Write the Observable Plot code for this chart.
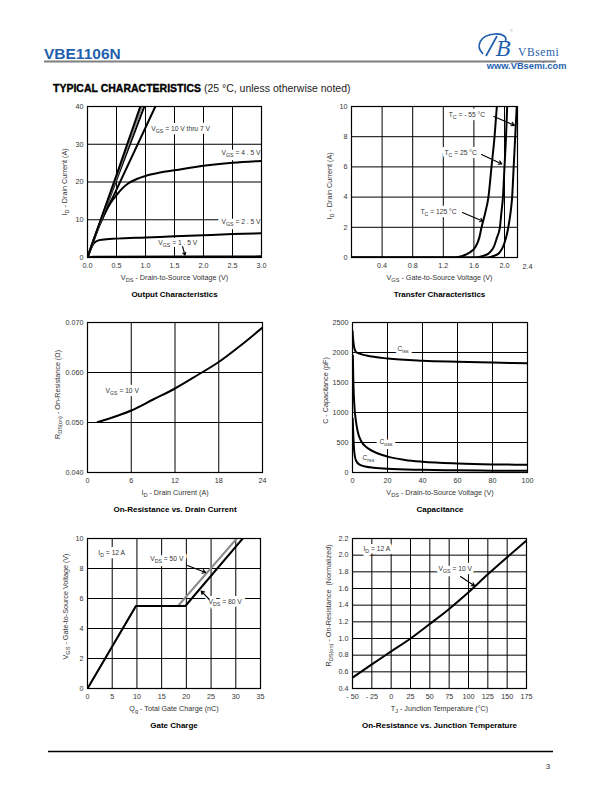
<!DOCTYPE html>
<html><head><meta charset="utf-8">
<script src="https://cdn.jsdelivr.net/npm/d3@7"></script>
<script src="https://cdn.jsdelivr.net/npm/@observablehq/plot@0.6"></script>
<style>
html,body{margin:0;padding:0;background:#fff;}
#page{position:relative;width:612px;height:792px;overflow:hidden;font-family:"Liberation Sans",Arial,sans-serif;}
#page svg{position:absolute;}
</style></head><body>
<div id="page">
<svg id="hdr" width="612" height="100" style="left:0;top:0">
  <text x="44" y="58.5" font-family="Liberation Sans, Arial" font-weight="bold" font-size="15.5" fill="#1f5fae">VBE1106N</text>
  <line x1="44" x2="556" y1="61.5" y2="61.5" stroke="#7f7f7f" stroke-width="2"/>
  <path d="M483,54 C475,46 480,35 495,34 C503,33.6 508,37 505,42" fill="none" stroke="#1f5fae" stroke-width="1.7"/>
  <path d="M486,56 L497,36" stroke="#1f5fae" stroke-width="1.7"/>
  <text x="496" y="55.5" font-family="DejaVu Serif, serif" font-style="italic" font-size="21" fill="#1f5fae">B</text>
  <text x="510" y="32" font-family="Liberation Sans, Arial" font-size="4" fill="#999">®</text>
  <text x="518" y="56" font-family="Liberation Serif, serif" font-size="11.5" letter-spacing="0.6" fill="#1f5fae">VBsemi</text>
  <text x="566.5" y="69" text-anchor="end" font-family="Liberation Sans, Arial" font-weight="bold" font-size="9.3" fill="#1f5fae">www.VBsemi.com</text>
  <text x="53" y="92" font-family="Liberation Sans, Arial" font-size="10.5" fill="#000"><tspan font-weight="900" stroke="#000" stroke-width="0.35">TYPICAL CHARACTERISTICS</tspan><tspan fill="#222"> (25 °C, unless otherwise noted)</tspan></text>
</svg>
<svg id="ftr" width="612" height="52" style="left:0;top:740">
  <line x1="48" x2="553" y1="11.5" y2="11.5" stroke="#000" stroke-width="1.3"/>
  <text x="548" y="28.5" text-anchor="middle" font-family="Liberation Sans, Arial" font-size="8" fill="#333">3</text>
</svg>
</div>
<script>
// ---------- Output Characteristics (VDS V, ID A) ----------
const out_xticks = [0, 0.5, 1.0, 1.5, 2.0, 2.5, 3.0];
const out_yticks = [0, 10, 20, 30, 40];
const out_vgs10 = [[0,0],[0.2,8.8],[0.5,21.8],[0.91,40]];
const out_vgs9  = [[0,0],[0.2,8.6],[0.5,21.3],[0.94,40]];
const out_vgs8  = [[0,0],[0.2,8.4],[0.5,20.6],[0.98,40]];
const out_vgs7  = [[0,0],[0.1,4.5],[0.5,18.0],[1.17,40]];
const out_vgs45 = [[0,0],[0.1,4.4],[0.2,8.5],[0.3,11.8],[0.4,14.5],[0.5,16.5],[0.6,18.3],[0.7,19.6],[0.85,20.8],[1.0,21.6],[1.25,22.5],[1.5,23.1],[2.0,24.3],[2.5,25.1],[3.0,25.6]];
const out_vgs25 = [[0,0],[0.05,2],[0.1,3.6],[0.15,4.3],[0.25,4.7],[0.5,5.0],[1.0,5.3],[1.5,5.6],[2.0,5.9],[2.5,6.2],[3.0,6.4]];
const out_vgs15 = [[0,0],[0.1,0.2],[3.0,0.3]];

// ---------- Transfer Characteristics (VGS V, ID A) ----------
const trans_xticks = [0.4, 0.8, 1.2, 1.6, 2.0];
const trans_xlast = "2.4";
const trans_yticks = [0, 2, 4, 6, 8, 10];
const trans_tc125 = [[0,0],[1.35,0],[1.45,0.1],[1.55,0.35],[1.62,0.7],[1.67,1.3],[1.70,2],[1.75,3],[1.79,4],[1.83,6],[1.87,8],[1.9,10]];
const trans_tc25  = [[0,0],[1.62,0],[1.72,0.1],[1.8,0.3],[1.86,0.7],[1.9,1.3],[1.94,2],[1.96,3],[1.98,4],[2.0,6],[2.02,8],[2.035,10]];
const trans_tcm55 = [[0,0],[1.78,0],[1.86,0.1],[1.93,0.3],[1.98,0.7],[2.02,1.3],[2.05,2],[2.08,3],[2.1,4],[2.12,6],[2.14,8],[2.16,10]];

// ---------- On-Resistance vs Drain Current (ID A, RDS ohm) ----------
const rds_xticks = [0, 6, 12, 18, 24];
const rds_yticks = [0.040, 0.050, 0.060, 0.070];
const rds_vgs10 = [[1.4,0.0501],[3,0.0508],[6,0.0524],[9,0.0546],[12,0.0568],[15,0.0594],[18,0.0621],[21,0.0654],[24,0.0690]];

// ---------- Capacitance (VDS V, C pF) ----------
const cap_xticks = [0, 20, 40, 60, 80, 100];
const cap_yticks = [0, 500, 1000, 1500, 2000, 2500];
const cap_ciss = [[0,2360],[0.5,2180],[1,2080],[2,2010],[4,1980],[8,1950],[20,1900],[40,1862],[60,1845],[80,1832],[100,1820]];
const cap_coss = [[0.2,1950],[0.5,1500],[1,1150],[2,850],[3,680],[5,520],[8,420],[12,350],[20,265],[30,210],[40,180],[60,150],[80,135],[100,130]];
const cap_crss = [[0.1,900],[0.5,600],[1,350],[2,200],[4,130],[8,95],[12,80],[20,62],[40,45],[60,36],[80,30],[100,28]];

// ---------- Gate Charge (Qg nC, VGS V) ----------
const qg_xticks = [0, 5, 10, 15, 20, 25, 30, 35];
const qg_yticks = [0, 2, 4, 6, 8, 10];
const qg_vds50 = [[0,0],[9.8,5.5],[18.3,5.5],[30.2,10]];
const qg_vds80 = [[0,0],[9.8,5.5],[19.8,5.5],[31.4,10]];

// ---------- On-Resistance vs Junction Temperature (TJ °C, normalized) ----------
const tj_xticks = [-50, -25, 0, 25, 50, 75, 100, 125, 150, 175];
const tj_yticks = [0.4, 0.6, 0.8, 1.0, 1.2, 1.4, 1.6, 1.8, 2.0, 2.2];
const tj_rds = [[-50,0.53],[-25,0.69],[0,0.845],[25,1.0],[50,1.175],[75,1.355],[100,1.555],[125,1.77],[150,1.975],[175,2.175]];

const FONT = '"Liberation Sans", Arial, sans-serif';
const page = document.getElementById("page");
const fx = d => d[0], fy = d => d[1];
const inner = a => a.slice(1, -1);

function subscriptify(root) {
  root.querySelectorAll("text").forEach(t => {
    const targets = t.querySelectorAll("tspan").length ? [...t.querySelectorAll("tspan")] : [t];
    targets.forEach(el => {
      const s = el.textContent;
      if (!s.includes("_{")) return;
      el.textContent = "";
      const re = /_\{([^}]*)\}/g;
      let last = 0, m;
      while ((m = re.exec(s))) {
        if (m.index > last) el.appendChild(document.createTextNode(s.slice(last, m.index)));
        const ts = document.createElementNS("http://www.w3.org/2000/svg", "tspan");
        ts.setAttribute("baseline-shift", "-1.6");
        ts.setAttribute("font-size", "78%");
        ts.textContent = m[1];
        el.appendChild(ts);
        last = re.lastIndex;
      }
      if (last < s.length) el.appendChild(document.createTextNode(s.slice(last)));
    });
  });
}

function curve(data, opts = {}) {
  return Plot.line(data, {x: fx, y: fy, stroke: "#000", strokeWidth: 2, curve: "monotone-x", clip: true, ...opts});
}
// annotation: a white backing layer (hides gridlines) then the text itself
function note(items, opts = {}) {
  const base = {x: "x", y: "y", text: "t", textAnchor: "start", fontSize: 6.7, ...opts};
  return [
    Plot.text(items, {...base, fill: "white", stroke: "white", strokeWidth: 6.5, strokeLinejoin: "round"}),
    Plot.text(items, {...base, fill: "#333"})
  ];
}
function pointer(items) {
  return Plot.arrow(items, {x1: "x1", y1: "y1", x2: "x2", y2: "y2", stroke: "#000", strokeWidth: 1.1, headLength: 5});
}

function chart(cfg) {
  const ml = 50, mr = 16, mt = 8, mb = 46;
  const svg = Plot.plot({
    width: ml + cfg.fw + mr, height: mt + cfg.fh + mb,
    marginLeft: ml, marginRight: mr, marginTop: mt, marginBottom: mb,
    style: {fontFamily: FONT, fontSize: "7px", color: "#333", background: "transparent", overflow: "visible"},
    x: {domain: cfg.xdomain, axis: null},
    y: {domain: cfg.ydomain, axis: null},
    marks: [
      Plot.gridX(inner(cfg.xticks), {stroke: "#000", strokeOpacity: 1, strokeWidth: 1}),
      Plot.gridY(inner(cfg.yticks), {stroke: "#000", strokeOpacity: 1, strokeWidth: 1}),
      ...(cfg.notes || []).flat(),
      ...cfg.marks,
      Plot.frame({stroke: "#000", strokeWidth: 1.2}),
      Plot.axisX(cfg.xlabels || cfg.xticks, {tickSize: 0, tickPadding: 5, tickFormat: cfg.xfmt, label: null, fontSize: 7.2}),
      Plot.axisY(cfg.yticks, {tickSize: 0, tickPadding: 4, tickFormat: cfg.yfmt, label: null, fontSize: 7.2}),
      Plot.text([cfg.xlabel], {text: d => d, frameAnchor: "bottom", textAnchor: "middle", lineAnchor: "middle",
        dx: cfg.cdx || 0, dy: 20.5, fontSize: 7.2, fill: "#333"}),
      Plot.text([cfg.ylabel], {text: d => d, frameAnchor: "left", textAnchor: "middle", lineAnchor: "middle",
        rotate: -90, dx: cfg.ydx, dy: cfg.ydy || 0, fontSize: 7.2, fill: "#333"}),
      Plot.text([cfg.title], {text: d => d, frameAnchor: "bottom", textAnchor: "middle", lineAnchor: "middle",
        dx: cfg.cdx || 0, dy: 37, fontSize: 8, fontWeight: "bold", fill: "#000"})
    ]
  });
  svg.style.left = (cfg.left - ml) + "px";
  svg.style.top = (cfg.top - mt) + "px";
  subscriptify(svg);
  page.appendChild(svg);
}

const f1 = d3.format(".1f"), f3 = d3.format(".3f");

// 1. Output Characteristics
chart({
  left: 86.5, top: 106, fw: 174, fh: 151,
  xdomain: [0, 3], ydomain: [0, 40], xticks: out_xticks, yticks: out_yticks, xfmt: f1, yfmt: d3.format("d"),
  xlabel: "V_{DS} - Drain-to-Source Voltage (V)", ylabel: "I_{D} - Drain Current (A)", ydx: -23,
  title: "Output Characteristics",
  notes: [
    note([{x: 1.1, y: 34.2, t: "V_{GS} = 10 V thru 7 V"}]),
    note([{x: 3.0, y: 27.8, t: "V_{GS} = 4 . 5 V"}, {x: 3.0, y: 9.5, t: "V_{GS} = 2 . 5 V"}], {textAnchor: "end", dx: -1}),
    note([{x: 1.22, y: 4.0, t: "V_{GS} = 1 . 5 V"}])
  ],
  marks: [
    curve(out_vgs15), curve(out_vgs25), curve(out_vgs45), curve(out_vgs7), curve(out_vgs8),
    curve(out_vgs9, {stroke: "#888"}), curve(out_vgs10),
    pointer([{x1: 1.64, y1: 2.9, x2: 1.68, y2: 0.6}])
  ]
});

// 2. Transfer Characteristics
chart({
  left: 351, top: 106, fw: 166, fh: 151,
  xdomain: [0, 2.17], ydomain: [0, 10], xticks: [0, ...trans_xticks, 2.17], xlabels: trans_xticks, yticks: trans_yticks,
  xfmt: f1, yfmt: d3.format("d"),
  xlabel: "V_{GS} - Gate-to-Source Voltage (V)", ylabel: "I_{D} - Drain Current (A)", ydx: -22, ydy: 4, cdx: 5,
  title: "Transfer Characteristics",
  notes: [
    note([{x: 1.27, y: 9.47, t: "T_{C} = - 55 °C"}, {x: 1.216, y: 6.95, t: "T_{C} = 25 °C"}, {x: 0.902, y: 3.05, t: "T_{C} = 125 °C"}])
  ],
  marks: [
    curve(trans_tc125), curve(trans_tc25), curve(trans_tcm55),
    Plot.text([trans_xlast], {text: d => d, frameAnchor: "bottom-right", textAnchor: "middle", lineAnchor: "middle",
      dx: 10, dy: 9.5, fontSize: 7.2}),
    pointer([{x1: 1.86, y1: 9.34, x2: 2.13, y2: 8.75}, {x1: 1.70, y1: 6.82, x2: 1.965, y2: 6.2}, {x1: 1.45, y1: 2.98, x2: 1.72, y2: 2.4}])
  ]
});

// 3. On-Resistance vs Drain Current
chart({
  left: 87, top: 322, fw: 175, fh: 150,
  xdomain: [0, 24], ydomain: [0.04, 0.07], xticks: rds_xticks, yticks: rds_yticks, xfmt: d3.format("d"), yfmt: f3,
  xlabel: "I_{D} - Drain Current (A)", ylabel: "R_{DS(on)} - On-Resistance (Ω)", ydx: -30, ydy: -3,
  title: "On-Resistance vs. Drain Current",
  notes: [note([{x: 2.47, y: 0.0564, t: "V_{GS} = 10 V"}])],
  marks: [curve(rds_vgs10)]
});

// 4. Capacitance
chart({
  left: 352, top: 322, fw: 175, fh: 150,
  xdomain: [0, 100], ydomain: [0, 2500], xticks: cap_xticks, yticks: cap_yticks, xfmt: d3.format("d"), yfmt: d3.format("d"),
  xlabel: "V_{DS} - Drain-to-Source Voltage (V)", ylabel: "C - Capacitance (pF)", ydx: -27, ydy: -7,
  title: "Capacitance",
  notes: [note([{x: 25.7, y: 2067, t: "C_{iss}"}, {x: 15.4, y: 517, t: "C_{oss}"}, {x: 5.7, y: 250, t: "C_{rss}"}])],
  marks: [curve(cap_crss), curve(cap_coss), curve(cap_ciss)]
});

// 5. Gate Charge
chart({
  left: 87, top: 538, fw: 173, fh: 150,
  xdomain: [0, 35], ydomain: [0, 10], xticks: qg_xticks, yticks: qg_yticks, xfmt: d3.format("d"), yfmt: d3.format("d"),
  xlabel: "Q_{g} - Total Gate Charge (nC)", ylabel: "V_{GS} - Gate-to-Source Voltage (V)", ydx: -22, ydy: -7,
  title: "Gate Charge",
  notes: [note([{x: 2.2, y: 9.07, t: "I_{D} = 12 A"}, {x: 12.7, y: 8.67, t: "V_{DS} = 50 V"}, {x: 24.5, y: 5.8, t: "V_{DS} = 80 V"}])],
  marks: [
    curve(qg_vds50, {stroke: "#8a8a8a", curve: "linear"}), curve(qg_vds80, {curve: "linear"}),
    pointer([{x1: 20.2, y1: 8.2, x2: 23.9, y2: 7.73}, {x1: 24.6, y1: 5.95, x2: 23.0, y2: 6.5}])
  ]
});

// 6. On-Resistance vs Junction Temperature
chart({
  left: 352, top: 538, fw: 174, fh: 150,
  xdomain: [-50, 175], ydomain: [0.4, 2.2], xticks: tj_xticks, yticks: tj_yticks,
  xfmt: d => d < 0 ? "- " + (-d) : String(d), yfmt: f1,
  xlabel: "T_{J} - Junction Temperature (°C)", ylabel: "R_{DS(on)} - On-Resistance  (Normalized)", ydx: -24, ydy: -8,
  title: "On-Resistance vs. Junction Temperature",
  notes: [note([{x: -35.8, y: 2.08, t: "I_{D} = 12 A"}, {x: 61.3, y: 1.84, t: "V_{GS} = 10 V"}])],
  marks: [
    curve(tj_rds),
    pointer([{x1: 89.7, y1: 1.744, x2: 108, y2: 1.63}])
  ]
});
</script>
</body></html>
